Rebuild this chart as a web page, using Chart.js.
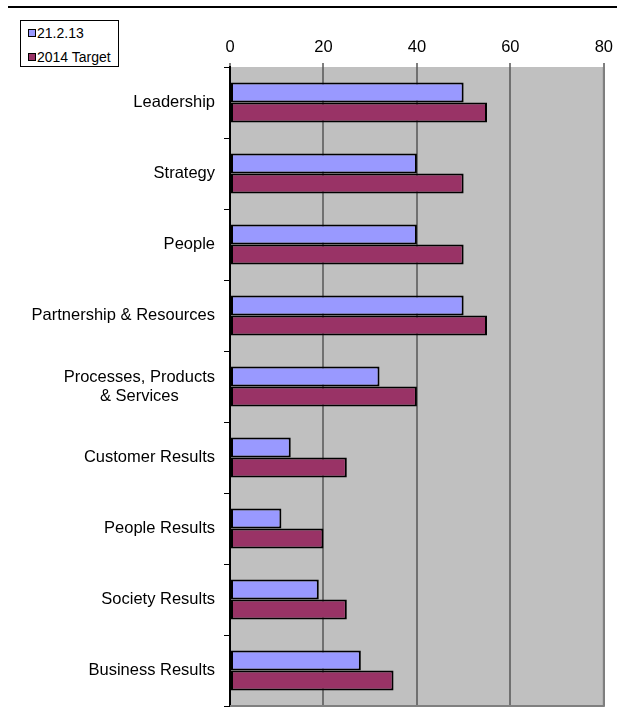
<!DOCTYPE html>
<html>
<head>
<meta charset="utf-8">
<script src="https://cdn.jsdelivr.net/npm/chart.js@4.4.1/dist/chart.umd.min.js"></script>
<style>
    html, body { margin:0; padding:0; background:#fff; }
    #wrap { position:relative; width:619px; height:722px; }
    #topRule { position:absolute; left:8px; top:6px; width:609px; height:2px; background:#000; }
    #legend {
        position:absolute; left:20px; top:20px; width:97px; height:45px;
        border:1px solid #000; background:#fff;
        font-family:'Liberation Sans', Arial, sans-serif; font-size:14px; color:#000;
    }
    #legend .item { position:absolute; left:7px; white-space:nowrap; line-height:16px; }
    #legend .sw { display:inline-block; width:6px; height:6px; border:1px solid #000; margin-right:1px; vertical-align:1px; }
</style>
</head>
<body>
<div id="wrap">
    <canvas id="chart" width="619" height="722"></canvas>
    <div id="topRule"></div>
    <div id="legend"></div>
</div>
<script>
// 항목별 점수
const CATEGORIES = [
    'Leadership',
    'Strategy',
    'People',
    'Partnership & Resources',
    ['Processes, Products', '& Services'],
    'Customer Results',
    'People Results',
    'Society Results',
    'Business Results'
];
const SERIES_NAMES = ['21.2.13', '2014 Target'];
const CURRENT = [50, 40, 40, 50, 32, 13, 11, 19, 28];
const TARGET  = [55, 50, 50, 55, 40, 25, 20, 25, 35];
const X_TICKS = [0, 20, 40, 60, 80];
const COLORS  = ['#9999FF', '#993366'];

const FONT = "'Liberation Sans', Arial, sans-serif";

// 플롯 배경 + 오른쪽/아래 테두리
const plotBg = {
    id: 'plotBg',
    beforeDraw(chart) {
        const { ctx, chartArea: a } = chart;
        ctx.save();
        ctx.fillStyle = '#C0C0C0';
        ctx.fillRect(a.left, a.top, a.right - a.left, a.bottom - a.top);
        ctx.restore();
    },
    afterDatasetsDraw(chart) {
        const { ctx, chartArea: a } = chart;
        ctx.save();
        ctx.strokeStyle = '#808080';
        ctx.lineWidth = 2;
        ctx.beginPath();
        ctx.moveTo(a.left, a.bottom);
        ctx.lineTo(a.right, a.bottom);
        ctx.lineTo(a.right, a.top);
        ctx.stroke();
        ctx.restore();
    }
};

// 카테고리 라벨 (두 줄 라벨은 가운데 정렬)
const catLabels = {
    id: 'catLabels',
    afterDraw(chart) {
        const { ctx, chartArea: a } = chart;
        const yScale = chart.scales.y;
        ctx.save();
        ctx.font = '16.5px ' + FONT;
        ctx.fillStyle = '#000';
        ctx.textBaseline = 'middle';
        ctx.textAlign = 'center';
        const right = a.left - 15;
        const lh = 19;
        CATEGORIES.forEach((lab, i) => {
            const lines = Array.isArray(lab) ? lab : [lab];
            const w = Math.max(...lines.map(s => ctx.measureText(s).width));
            const cx = right - w / 2;
            const cy = yScale.getPixelForValue(i);
            lines.forEach((s, li) => {
                ctx.fillText(s, cx, cy + (li - (lines.length - 1) / 2) * lh);
            });
        });
        ctx.restore();
    }
};

const datasets = [CURRENT, TARGET].map((d, i) => ({
    label: SERIES_NAMES[i],
    data: d,
    backgroundColor: COLORS[i],
    borderColor: '#000',
    borderWidth: 2,
    borderSkipped: false,
    categoryPercentage: 0.565,
    barPercentage: 1.0
}));

new Chart(document.getElementById('chart'), {
    type: 'bar',
    data: { labels: CATEGORIES.map((c, i) => i), datasets },
    options: {
        indexAxis: 'y',
        responsive: false,
        animation: false,
        layout: { padding: { left: 0, top: 0, right: 14, bottom: 16 } },
        plugins: { legend: { display: false }, tooltip: { enabled: false } },
        scales: {
            x: {
                position: 'top',
                min: 0, max: 80,
                afterBuildTicks: s => { s.ticks = X_TICKS.map(v => ({ value: v })); },
                afterFit: s => { s.height = 67; },
                ticks: { color: '#000', font: { family: FONT, size: 16.5 }, padding: 6 },
                grid: { color: '#707070', lineWidth: 2, tickColor: '#000', tickLength: 4, tickWidth: 1 },
                border: { display: false }
            },
            y: {
                afterFit: s => { s.width = 230; },
                ticks: { display: false },
                grid: { offset: true, drawOnChartArea: false, color: '#000', tickLength: 6, lineWidth: 1 },
                border: { display: true, color: '#000', width: 2 }
            }
        }
    },
    plugins: [plotBg, catLabels]
});

// 범례
const legend = document.getElementById('legend');
legend.innerHTML = SERIES_NAMES.map((n, i) =>
    `<div class="item" style="top:${[4, 28][i]}px"><span class="sw" style="background:${COLORS[i]}"></span>${n}</div>`
).join('');
</script>
</body>
</html>
